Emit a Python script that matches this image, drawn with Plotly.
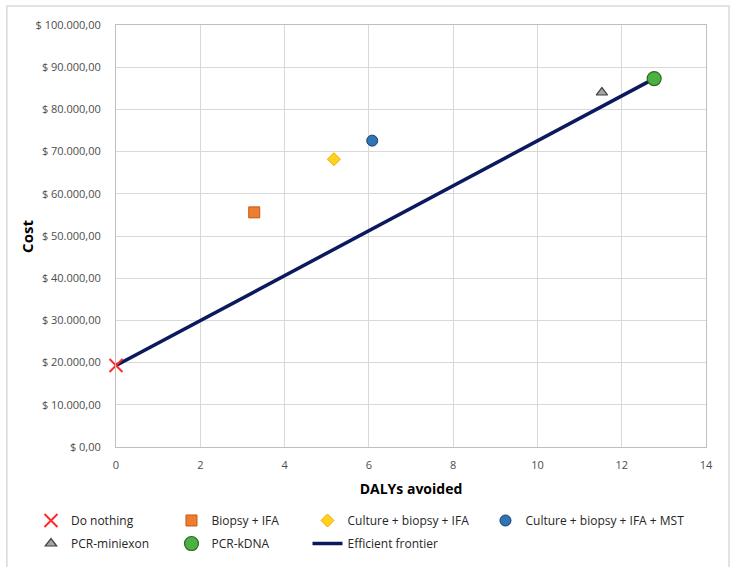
import plotly.graph_objects as go

# Strategies: DALYs avoided vs. cost
strategies = ["Do nothing", "Biopsy + IFA", "Culture + biopsy + IFA",
              "Culture + biopsy + IFA + MST", "PCR-miniexon", "PCR-kDNA"]
dalys_avoided = [0.0, 3.28, 5.17, 6.08, 11.53, 12.77]
costs = [19300, 55600, 68200, 72600, 84000, 87300]

# Strategies on the efficient frontier (indices into the lists above)
frontier_idx = [0, 5]

y_tick_vals = [0, 10000, 20000, 30000, 40000, 50000, 60000, 70000, 80000, 90000, 100000]
y_tick_text = ["$ 0,00", "$ 10.000,00", "$ 20.000,00", "$ 30.000,00", "$ 40.000,00",
               "$ 50.000,00", "$ 60.000,00", "$ 70.000,00", "$ 80.000,00",
               "$ 90.000,00", "$ 100.000,00"]
x_tick_vals = [0, 2, 4, 6, 8, 10, 12, 14]

FONT = "Open Sans"

styles = [
    dict(symbol="x-thin", size=13, color="#FF2A2A",
         line=dict(color="#FF2A2A", width=2)),
    dict(symbol="square", size=11, color="#ED7D31",
         line=dict(color="#C55A11", width=1)),
    dict(symbol="diamond", size=10, color="#FFD21F",
         line=dict(color="#F2A900", width=1)),
    dict(symbol="circle", size=11, color="#2E75B6",
         line=dict(color="#1F3864", width=1)),
    dict(symbol="triangle-up", size=10, color="#A5A5A5",
         line=dict(color="#404040", width=1.2)),
    dict(symbol="circle", size=14, color="#4CB043",
         line=dict(color="#2B6A22", width=1.2)),
]

# Legend grid (container fractions): one single-entry legend per cell
col_x = [0.0421, 0.2330, 0.4178, 0.6596]
row_y = [0.1076, 0.0670]
legend_cell = {  # entry -> (row, column)
    "Do nothing": (0, 0), "Biopsy + IFA": (0, 1),
    "Culture + biopsy + IFA": (0, 2), "Culture + biopsy + IFA + MST": (0, 3),
    "PCR-miniexon": (1, 0), "PCR-kDNA": (1, 1), "Efficient frontier": (1, 2),
}
legend_ids = {}
for k, name in enumerate(legend_cell):
    legend_ids[name] = "legend" if k == 0 else f"legend{k + 1}"

fig = go.Figure()

fig.add_trace(go.Scatter(
    x=[dalys_avoided[i] for i in frontier_idx],
    y=[costs[i] for i in frontier_idx],
    mode="lines", name="Efficient frontier",
    line=dict(color="#0B1A5E", width=3.5),
    legend=legend_ids["Efficient frontier"],
))

for i, name in enumerate(strategies):
    fig.add_trace(go.Scatter(
        x=[dalys_avoided[i]], y=[costs[i]], mode="markers", name=name,
        marker=styles[i], legend=legend_ids[name], cliponaxis=False,
    ))

legend_layout = {}
for name, (r, c) in legend_cell.items():
    legend_layout[legend_ids[name]] = dict(
        x=col_x[c], y=row_y[r], xref="container", yref="container",
        xanchor="left", yanchor="top", orientation="v",
        font=dict(family=FONT, size=12, color="#262626"),
        bgcolor="rgba(0,0,0,0)", itemwidth=30,
    )

fig.update_layout(
    width=736, height=567,
    margin=dict(l=116, r=30, t=25, b=120, autoexpand=False),
    paper_bgcolor="white", plot_bgcolor="white",
    font=dict(family=FONT),
    showlegend=True,
    xaxis=dict(
        range=[0, 14], tickvals=x_tick_vals,
        showgrid=True, gridcolor="#D9D9D9", gridwidth=1,
        showline=True, linecolor="#BFBFBF", linewidth=1, mirror=True,
        zeroline=False, ticks="", ticklabelstandoff=8,
        tickfont=dict(family=FONT, size=11, color="#4D4D4D"),
        title=dict(text="<b>DALYs avoided</b>", standoff=12,
                   font=dict(family=FONT, size=14, color="#000000")),
    ),
    yaxis=dict(
        range=[0, 100000], tickvals=y_tick_vals, ticktext=y_tick_text,
        showgrid=True, gridcolor="#D9D9D9", gridwidth=1,
        showline=True, linecolor="#BFBFBF", linewidth=1, mirror=True,
        zeroline=False, ticks="", ticklabelstandoff=12,
        tickfont=dict(family=FONT, size=11, color="#4D4D4D"),
    ),
    # y-axis title placed as a rotated annotation left of the tick labels
    annotations=[dict(
        text="<b>Cost</b>", textangle=-90, showarrow=False,
        xref="paper", yref="paper", x=-0.151, y=0.5,
        xanchor="center", yanchor="middle",
        font=dict(family=FONT, size=15, color="#000000"),
    )],
    shapes=[dict(
        type="rect", xref="paper", yref="paper",
        x0=-0.185, x1=1.039, y0=-0.3, y1=1.045,
        line=dict(color="#D9D9D9", width=1.5), fillcolor="rgba(0,0,0,0)",
        layer="below",
    )],
)
fig.update_layout(**legend_layout)

fig.write_html("out.html")
